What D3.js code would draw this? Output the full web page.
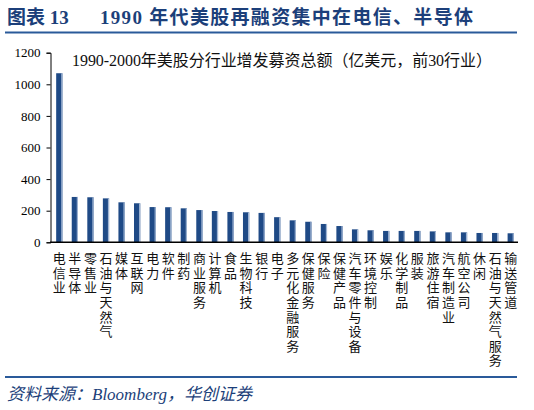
<!DOCTYPE html>
<html><head><meta charset="utf-8">
<script src="https://cdn.jsdelivr.net/npm/d3@7"></script>
<style>
html,body{margin:0;padding:0;background:#fff;}
svg{display:block;}
</style></head>
<body>
<svg id="chart" width="534" height="410"></svg>
<script>
const categories = ["电信业","半导体","零售业","石油与天然气","媒体","互联网","电力","软件","制药","商业服务","计算机","食品","生物科技","银行","电子","多元化金融服务","保健服务","保险","保健产品","汽车零件与设备","环境控制","娱乐","化学制品","服装","旅游住宿","汽车制造业","航空公司","休闲","石油与天然气服务","输送管道"];
const values = [1070,287,285,278,253,247,223,222,215,204,198,192,190,186,159,139,130,116,103,82,76,72,72,72,69,63,63,59,59,57];
const yTicks = [0,200,400,600,800,1000,1200];
const titleLabel = "图表 13";
const titleText = "1990 年代美股再融资集中在电信、半导体";
const subtitleText = "1990-2000年美股分行业增发募资总额（亿美元，前30行业）";
const sourceText = "资料来源：Bloomberg，华创证券";

const svg = d3.select("#chart");
const navy = "#1c3f7a";
const serifCJK = "'Liberation Serif','Noto Sans CJK SC',serif";

// Title
svg.append("text").attr("x",7).attr("y",24)
  .attr("font-family",serifCJK)
  .attr("font-weight","bold").attr("font-size",19).attr("fill",navy)
  .text(titleLabel);
svg.append("text").attr("x",100).attr("y",24)
  .attr("font-family",serifCJK)
  .attr("font-weight","bold").attr("font-size",19).attr("fill",navy)
  .attr("textLength",373).attr("lengthAdjust","spacing")
  .text(titleText);
svg.append("line").attr("x1",5).attr("x2",517).attr("y1",32.5).attr("y2",32.5)
  .attr("stroke","#2a5a9a").attr("stroke-width",2);

// Footer
svg.append("line").attr("x1",5).attr("x2",517).attr("y1",377).attr("y2",377)
  .attr("stroke","#2a5a9a").attr("stroke-width",2);
svg.append("text").attr("x",7).attr("y",400)
  .attr("font-family",serifCJK)
  .attr("font-style","italic").attr("font-size",17).attr("fill",navy)
  .text(sourceText);

// Scales
const x = d3.scaleBand().domain(categories).range([51.5,518.5]).paddingInner(0.6).paddingOuter(0.3);
const y = d3.scaleLinear().domain([0,1200]).range([242.3,52.7]);

// Subtitle
svg.append("text").attr("x",72).attr("y",66)
  .attr("font-family",serifCJK)
  .attr("font-size",16).attr("fill","#111")
  .attr("textLength",420).attr("lengthAdjust","spacing")
  .text(subtitleText);

// Bars
const bw = x.bandwidth();
const g = svg.append("g");
g.selectAll("rect.bar").data(values).enter().append("rect")
  .attr("class","bar")
  .attr("x",(d,i)=>x(categories[i]))
  .attr("y",d=>y(d))
  .attr("width",bw)
  .attr("height",d=>y(0)-y(d))
  .attr("fill","#1f4a86");
g.selectAll("rect.edge").data(values).enter().append("rect")
  .attr("class","edge")
  .attr("x",(d,i)=>x(categories[i])+bw-1.2)
  .attr("y",d=>y(d))
  .attr("width",1.2)
  .attr("height",d=>y(0)-y(d))
  .attr("fill","#9fb4d3");

// Y axis
const yAxis = svg.append("g").attr("transform","translate(50.5,0)")
  .call(d3.axisLeft(y).tickValues(yTicks).tickSize(4).tickPadding(6).tickFormat(d3.format("d")));
yAxis.select(".domain").attr("stroke","#000").attr("stroke-width",1);
yAxis.selectAll(".tick line").attr("stroke","#000");
yAxis.selectAll(".tick text").attr("font-family","'Liberation Serif',serif").attr("font-size",13).attr("fill","#000");

// X axis
const xAxis = svg.append("g").attr("transform","translate(0,242.3)")
  .call(d3.axisBottom(x).tickSize(0).tickSizeOuter(0).tickFormat(""));
xAxis.select(".domain").attr("d","M50,0H518").attr("stroke","#000").attr("stroke-width",1.5);
xAxis.selectAll(".tick text").each(function(d){
  const t = d3.select(this);
  t.attr("font-family",serifCJK).attr("font-size",13).attr("fill","#111")
   .attr("text-anchor","middle").attr("y",0).attr("dy",null);
  Array.from(d).forEach((ch,k)=>{
    t.append("tspan").attr("x",0).attr("y",21 + k*14.6).text(ch);
  });
});
</script>
</body></html>
